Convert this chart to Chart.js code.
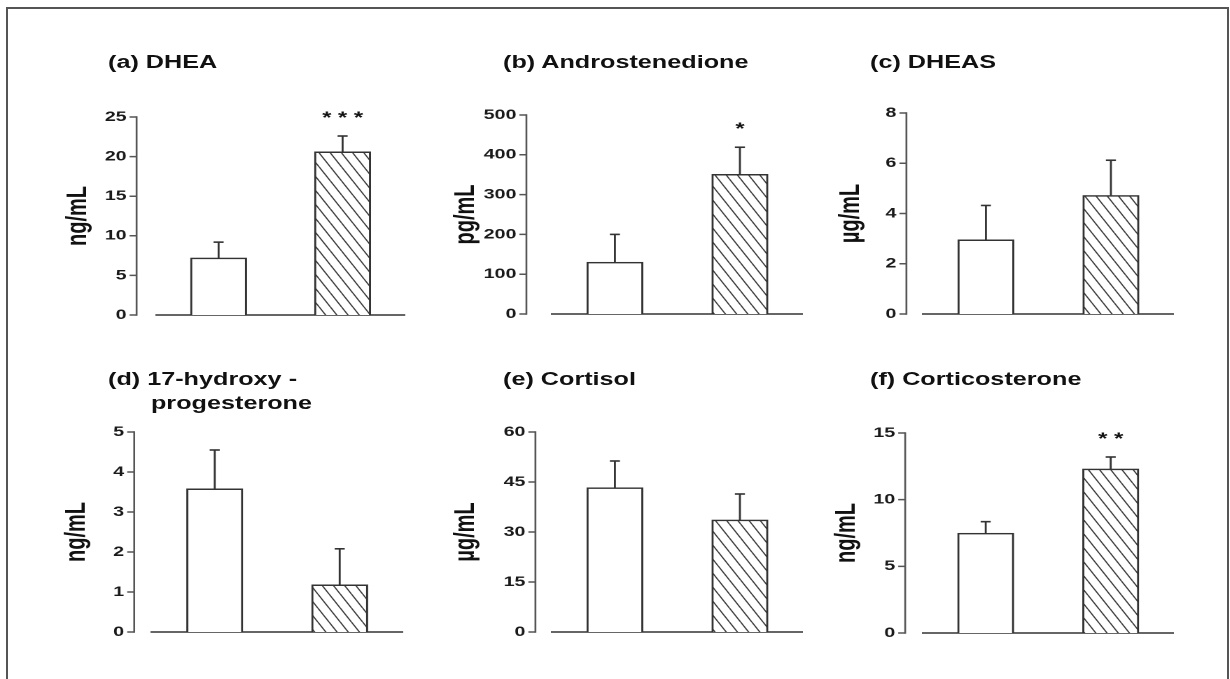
<!DOCTYPE html>
<html>
<head>
<meta charset="utf-8">
<script src="https://cdn.jsdelivr.net/npm/chart.js@4.4.1/dist/chart.umd.min.js"></script>
<style>
  html, body { margin: 0; padding: 0; background: #fff; }
  body { width: 1230px; height: 679px; overflow: hidden; position: relative; font-family: "Liberation Sans", Arial, sans-serif; }
  #frame { position: absolute; left: 6px; top: 7px; width: 1219px; height: 700px; border: 2px solid #555; }
  /* the whole figure is stretched sideways like the reference */
  #fig { position: absolute; left: 0; top: 0; width: 880px; height: 679px; transform: scaleX(1.4); transform-origin: 0 0; }
  #fig canvas { position: absolute; }
  .ttl { position: absolute; font-weight: bold; font-size: 18px; line-height: 24px; color: #111; white-space: nowrap; }
</style>
</head>
<body>
<div id="frame"></div>
<div id="fig"></div>
<script>
const S = 1.4;

// data
const groups = ['Control', 'Treated'];
const dheaMean = [7.2, 20.6];
const dheaSem = [2.0, 2.0];
const androMean = [130, 351];
const androSem = [70, 68];
const dheasMean = [2.95, 4.72];
const dheasSem = [1.37, 1.4];
const ohpMean = [3.58, 1.18];
const ohpSem = [0.97, 0.9];
const cortisolMean = [43.3, 33.6];
const cortisolSem = [8.0, 7.8];
const corticoMean = [7.48, 12.3];
const corticoSem = [0.87, 0.9];
const stars = [['', '***'], ['', '*'], ['', ''], ['', ''], ['', ''], ['', '**']];
const titles = [['(a) DHEA'], ['(b) Androstenedione'], ['(c) DHEAS'],
                ['(d) 17-hydroxy -', 'progesterone'], ['(e) Cortisol'], ['(f) Corticosterone']];
const units = ['ng/mL', 'pg/mL', 'µg/mL', 'ng/mL', 'µg/mL', 'ng/mL'];
const yMax = [25, 500, 8, 5, 60, 15];
const yStep = [5, 100, 2, 1, 15, 5];

const means = [dheaMean, androMean, dheasMean, ohpMean, cortisolMean, corticoMean];
const sems = [dheaSem, androSem, dheasSem, ohpSem, cortisolSem, corticoSem];

// panel placement in page pixels
const boxes = [
  {x0: 62,  axisX: 137, left: 157, right: 405,  top: 117, bottom: 315, tx: 108, ty: 68},
  {x0: 449, axisX: 526, left: 552, right: 802,  top: 115, bottom: 314, tx: 503, ty: 68},
  {x0: 834, axisX: 906, left: 923, right: 1173, top: 113, bottom: 314, tx: 870, ty: 68},
  {x0: 60,  axisX: 134, left: 152, right: 402,  top: 432, bottom: 632, tx: 108, ty: 385, tx2: 151, ty2: 409},
  {x0: 449, axisX: 535, left: 552, right: 802,  top: 432, bottom: 632, tx: 503, ty: 385},
  {x0: 830, axisX: 905, left: 923, right: 1173, top: 433, bottom: 633, tx: 870, ty: 385},
];

const FONT = '"Liberation Sans", Arial, sans-serif';
const fig = document.getElementById('fig');

function hatch() {
  const c = document.createElement('canvas');
  c.width = 16; c.height = 28;
  const g = c.getContext('2d');
  g.fillStyle = '#fff';
  g.fillRect(0, 0, 16, 28);
  g.strokeStyle = '#3a3a3a';
  g.lineWidth = 2;
  [-16, 0, 16].forEach(dx => {
    g.beginPath();
    g.moveTo(dx, 0);
    g.lineTo(dx + 16, 28);
    g.stroke();
  });
  const p = g.createPattern(c, 'repeat');
  p.setTransform(new DOMMatrix().scale(0.5));
  return p;
}

// y axis line, tick marks, error bars and stars
const panelPlugin = {
  id: 'panel',
  afterDatasetsDraw(chart, args, opts) {
    const {ctx} = chart;
    const y = chart.scales.y;
    const ax = opts.axis;
    ctx.save();
    ctx.strokeStyle = '#555';
    ctx.lineWidth = 1.3;
    ctx.beginPath();
    ctx.moveTo(ax, y.getPixelForValue(y.max) - 0.7);
    ctx.lineTo(ax, y.getPixelForValue(0) + 0.7);
    ctx.stroke();
    ctx.lineWidth = 1.5;
    ctx.beginPath();
    y.ticks.forEach(t => {
      const py = y.getPixelForValue(t.value);
      ctx.moveTo(ax - 5, py);
      ctx.lineTo(ax, py);
    });
    ctx.stroke();

    const ds = chart.data.datasets[0];
    chart.getDatasetMeta(0).data.forEach((bar, i) => {
      const top = y.getPixelForValue(ds.data[i] + ds.sem[i]);
      ctx.strokeStyle = '#333';
      ctx.lineWidth = 1.4;
      ctx.beginPath();
      ctx.moveTo(bar.x, bar.y);
      ctx.lineTo(bar.x, top);
      ctx.stroke();
      ctx.lineWidth = 1.6;
      ctx.beginPath();
      ctx.moveTo(bar.x - 3.6, top);
      ctx.lineTo(bar.x + 3.6, top);
      ctx.stroke();
      if (ds.stars[i]) {
        ctx.fillStyle = '#111';
        ctx.font = 'bold 17px ' + FONT;
        ctx.textAlign = 'center';
        ctx.fillText(ds.stars[i].split('').join(' '), bar.x, top - 13);
      }
    });
    ctx.restore();
  }
};

boxes.forEach((b, i) => {
  // titles
  const t1 = document.createElement('div');
  t1.className = 'ttl';
  t1.textContent = titles[i][0];
  t1.style.left = (b.tx / S) + 'px';
  t1.style.top = (b.ty - 18.2) + 'px';
  fig.appendChild(t1);
  if (titles[i][1]) {
    const t2 = document.createElement('div');
    t2.className = 'ttl';
    t2.textContent = titles[i][1];
    t2.style.left = (b.tx2 / S) + 'px';
    t2.style.top = (b.ty2 - 18.2) + 'px';
    fig.appendChild(t2);
  }

  const plotW = (b.right - b.x0) / S;
  const cw = Math.ceil(plotW) + 14;
  const ch = b.bottom - b.top + 40;
  const cv = document.createElement('canvas');
  cv.width = cw;
  cv.height = ch;
  cv.style.left = (b.x0 / S) + 'px';
  cv.style.top = (b.top - 20) + 'px';
  fig.appendChild(cv);

  const yWidth = (b.left - b.x0) / S;

  new Chart(cv, {
    type: 'bar',
    data: {
      labels: groups,
      datasets: [{
        data: means[i],
        sem: sems[i],
        stars: stars[i],
        backgroundColor: ['#ffffff', hatch()],
        borderColor: '#333',
        borderWidth: 1.5,
        barThickness: 56 / S
      }]
    },
    options: {
      responsive: false,
      animation: false,
      devicePixelRatio: 2,
      layout: {padding: {left: 0, top: 20, bottom: 20, right: cw - plotW}},
      plugins: {
        legend: {display: false},
        tooltip: {enabled: false},
        panel: {axis: (b.axisX - b.x0) / S}
      },
      scales: {
        x: {
          z: 1,
          grid: {display: false, drawTicks: false},
          ticks: {display: false},
          border: {display: true, color: '#666', width: 2},
          afterFit: s => { s.height = 0; s.paddingLeft = 0; s.paddingRight = 0; }
        },
        y: {
          min: 0,
          max: yMax[i],
          grid: {display: false, drawTicks: false},
          border: {display: false},
          ticks: {
            stepSize: yStep[i],
            padding: (b.left - b.axisX + 10) / S,
            color: '#1a1a1a',
            font: {family: FONT, weight: 'bold', size: 14}
          },
          title: {
            display: true,
            text: units[i],
            padding: 0,
            color: '#111',
            font: {family: FONT, weight: 'bold', size: 20}
          },
          afterFit: s => { s.width = yWidth; s.paddingTop = 0; s.paddingBottom = 0; }
        }
      }
    },
    plugins: [panelPlugin]
  });
});
</script>
</body>
</html>
